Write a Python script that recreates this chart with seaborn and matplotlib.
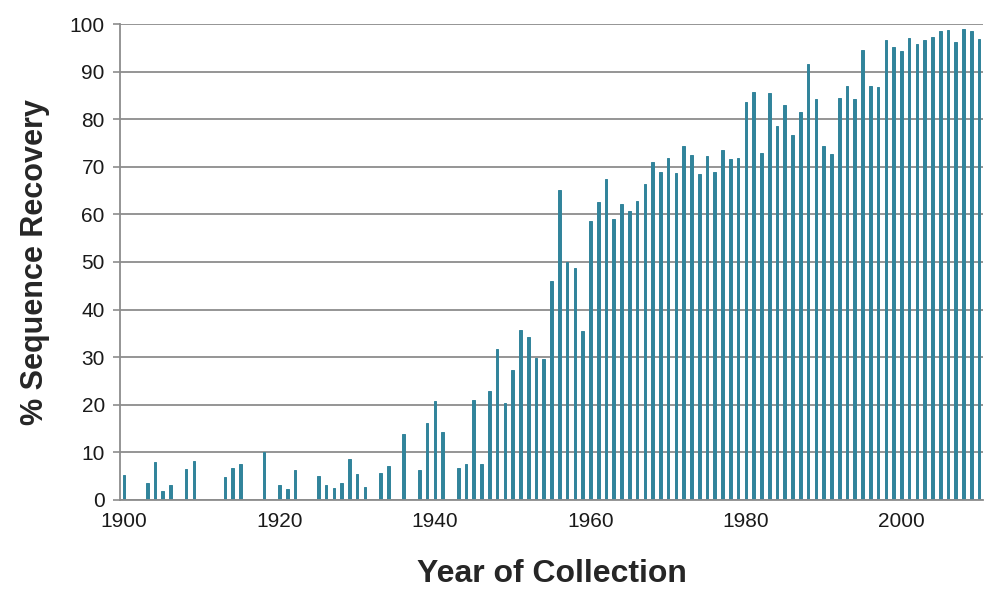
import matplotlib
matplotlib.use('Agg')
import matplotlib.pyplot as plt
import seaborn as sns
import pandas as pd
import numpy as np

# Años de colecta (categorías) y porcentaje de recuperación de secuencia
years = list(range(1900, 2011))
recovery = [
    5.1, 0, 0, 3.5, 7.9, 1.9, 3.2, 0, 6.4, 8.2,            # 1900-1909
    0, 0, 0, 4.7, 6.7, 7.5, 0, 0, 10.0, 0,                 # 1910-1919
    3.1, 2.2, 6.3, 0, 0, 4.9, 3.2, 2.4, 3.6, 8.6,          # 1920-1929
    5.5, 2.6, 0, 5.7, 7.1, 0, 13.8, 0, 6.3, 16.2,          # 1930-1939
    20.8, 14.2, 0, 6.6, 7.6, 20.9, 7.6, 22.9, 31.7, 20.4,  # 1940-1949
    27.3, 35.7, 34.3, 29.9, 29.5, 46.0, 65.2, 49.9, 48.7, 35.5,  # 1950-1959
    58.7, 62.7, 67.4, 59.0, 62.2, 60.8, 62.9, 66.4, 71.0, 69.0,  # 1960-1969
    71.8, 68.7, 74.3, 72.5, 68.4, 72.2, 68.9, 73.6, 71.7, 71.8,  # 1970-1979
    83.7, 85.7, 72.9, 85.5, 78.6, 83.1, 76.7, 81.5, 91.7, 84.2,  # 1980-1989
    74.3, 72.6, 84.5, 86.9, 84.2, 94.5, 87.1, 86.7, 96.6, 95.2,  # 1990-1999
    94.4, 97.2, 95.8, 96.6, 97.3, 98.6, 98.7, 96.2, 98.9, 98.6,  # 2000-2009
    96.9,                                                  # 2010
]
tick_years = [1900, 1920, 1940, 1960, 1980, 2000]
y_ticks = [0, 10, 20, 30, 40, 50, 60, 70, 80, 90, 100]

df = pd.DataFrame({'Year': years, 'Recovery': recovery})

sns.set_style('white')
plt.rcParams['font.family'] = ['Liberation Sans', 'DejaVu Sans']

grey = '#8c8c8c'
bar_color = '#31849B'

fig = plt.figure(figsize=(9.84, 5.9), dpi=100)
ax = fig.add_axes([0.122, 0.153, 0.877, 0.806])

sns.barplot(data=df, x='Year', y='Recovery', order=years, color=bar_color,
            saturation=1, width=0.34, edgecolor=bar_color, linewidth=0.7, ax=ax)

# Ejes
ax.set_xlim(-0.5, len(years) - 0.5)
ax.set_ylim(0, 100)
ax.set_yticks(y_ticks)
ax.set_yticklabels([str(v) for v in y_ticks], fontsize=15)

pos = [years.index(y) for y in tick_years]
ax.set_xticks(pos)
ax.set_xticklabels([str(y) for y in tick_years], fontsize=15)
ax.set_xticks(np.arange(-0.5, len(years), 1), minor=True)

ax.tick_params(axis='x', which='major', length=0, pad=9, colors='#1a1a1a')
ax.tick_params(axis='x', which='minor', length=4, width=1, color=grey, direction='out')
ax.tick_params(axis='y', which='major', length=5, width=1.2, color=grey, pad=6,
               labelcolor='#1a1a1a', left=True)

ax.yaxis.grid(True, color=grey, linewidth=1.3)
ax.xaxis.grid(False)
ax.set_axisbelow(True)

for side in ['top', 'right']:
    ax.spines[side].set_visible(False)
for side in ['left', 'bottom']:
    ax.spines[side].set_color(grey)
    ax.spines[side].set_linewidth(1.3)

ax.set_xlabel('Year of Collection', fontsize=23, fontweight='bold', labelpad=20)
ax.set_ylabel('% Sequence Recovery', fontsize=22, fontweight='bold', labelpad=14)

fig.savefig('out.png', dpi=100)
print("Imagen guardada")
